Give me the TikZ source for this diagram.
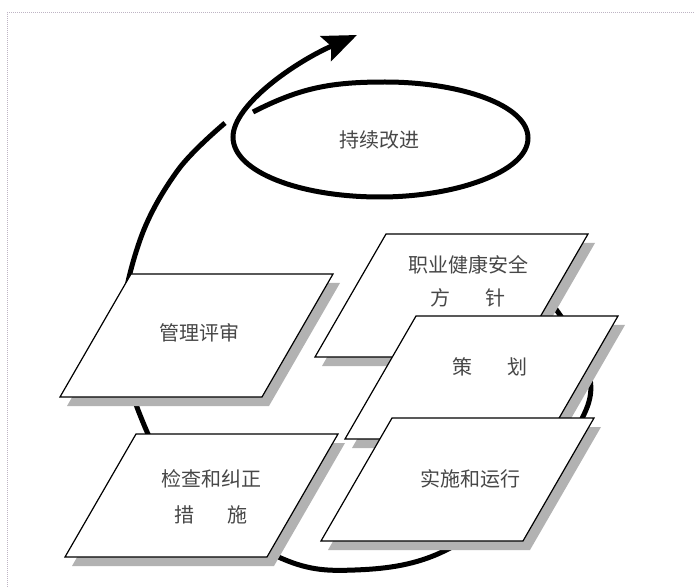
\documentclass[tikz,border=0pt]{standalone}
\usepackage{fontspec}
\newfontfamily\cjk{Noto Sans CJK SC}
\usetikzlibrary{arrows.meta}
\definecolor{framecol}{RGB}{190,180,196}
\newcommand{\pbox}[2]{%
  \fill[boxshadow] ({#1+7},{#2+9}) -- ++(202,0) -- ++(71,-123) -- ++(-202,0) -- cycle;
  \path[boxline] (#1,#2) -- ++(202,0) -- ++(71,-123) -- ++(-202,0) -- cycle;}
\begin{document}
\begin{tikzpicture}[x=1pt,y=-1pt,
  boxline/.style={draw=black, line width=1.2pt, fill=white, line join=miter},
  boxshadow/.style={fill=black!30},
  flow/.style={line width=5pt, line cap=butt},
  lbl/.style={font=\cjk\fontsize{20}{34}\selectfont, text=black!72, align=center, inner sep=0pt},
]
\useasboundingbox (0,0) rectangle (694,588);
% frame (only top and left edges visible)
\draw[framecol, densely dotted, line width=1pt] (694,13) -- (7,13) -- (7,588);

% big cycle curve (behind the boxes)
\draw[flow] plot[smooth, tension=0.6] coordinates {
  (225,123) (178,170) (140,240) (122,330) (140,415) (190,500) (283,559)
  (355,570) (440,553) (530,490) (586,410) (585,360) (560,315) (535,285)};

% continual-improvement loop with arrow
\draw[flow, -{Stealth[length=34pt,width=27pt,inset=6pt]}]
  (253,112) .. controls (300,88) and (330,82) .. (385,82)
  .. controls (460,82) and (528,105) .. (528,138)
  .. controls (528,172) and (455,197) .. (380,197)
  .. controls (300,197) and (233,172) .. (233,137)
  .. controls (233,105) and (295,62) .. (357,35);

% boxes
\pbox{315}{357}
\pbox{345}{439}
\pbox{321}{541}
\pbox{60}{397}
\pbox{65}{557}

% labels
\node[lbl] (ci) at (379,140) {持续改进};
\node[lbl] (mr) at (199,333) {管理评审};
\node[lbl, font=\cjk\fontsize{20}{33}\selectfont] (pol) at (468,281.5) {职业健康安全\\方\hspace{35pt}针};
\node[lbl] (pl) at (490,367) {策\hspace{35pt}划};
\node[lbl] (op) at (470,479) {实施和运行};
\node[lbl, font=\cjk\fontsize{20}{36}\selectfont] (ck) at (211,497) {检查和纠正\\措\hspace{33pt}施};
\end{tikzpicture}
\end{document}
